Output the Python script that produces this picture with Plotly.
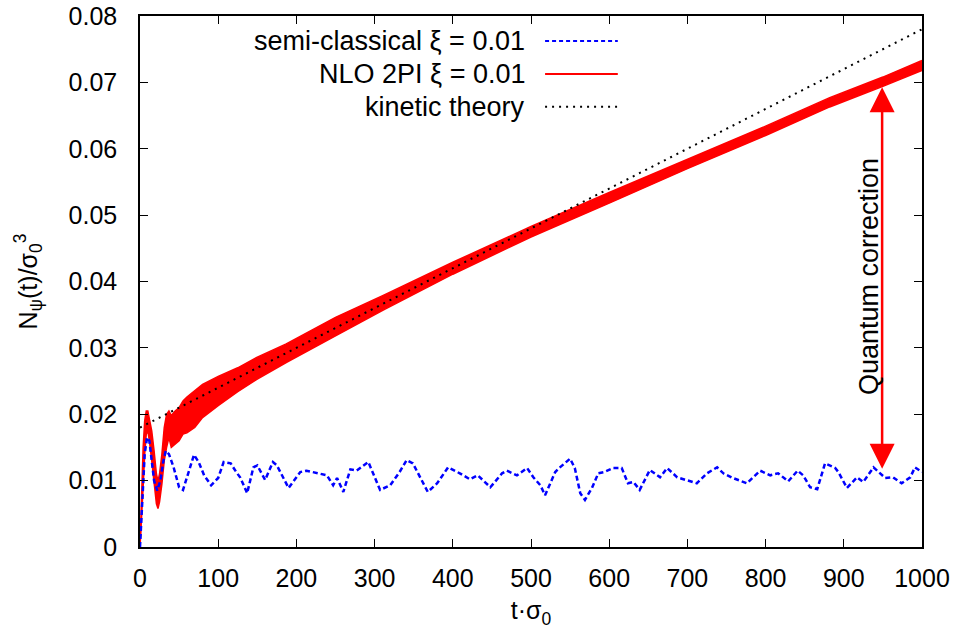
import plotly.graph_objects as go

# ---------------- data ----------------
# semi-classical xi = 0.01 (blue dashed)
t_blue = [0, 3, 6, 9, 12, 15, 18, 22, 26, 30, 33, 37, 43, 50, 55, 63, 69, 75, 82, 91,
          100, 107, 116, 123, 128, 133, 137, 145, 150, 160, 170, 175, 190, 205, 213,
          239, 247, 252, 260, 269, 277, 292, 307, 320, 332, 341, 349, 360, 368, 380,
          394, 409, 422, 432, 448, 463, 469, 482, 495, 503, 512, 518, 531, 537, 550,
          556, 563, 569, 578, 586, 594, 605, 616, 624, 631, 639, 652, 665, 674, 687,
          699, 712, 725, 738, 746, 758, 776, 793, 806, 816, 829, 841, 848, 857, 866,
          870, 876, 889, 893, 904, 917, 925, 938, 953, 963, 974, 985, 991, 1000]
n_blue = [0, 0.007, 0.014, 0.0165, 0.016, 0.013, 0.010, 0.0085, 0.010, 0.013, 0.0145,
          0.014, 0.012, 0.009, 0.0086, 0.0116, 0.0139, 0.0128, 0.0108, 0.0093,
          0.0104, 0.0128, 0.0126, 0.0113, 0.0105, 0.0092, 0.0081, 0.012, 0.0123,
          0.0101, 0.0128, 0.0123, 0.0089, 0.0113, 0.0115, 0.0108, 0.0093, 0.0104,
          0.0083, 0.0117, 0.0115, 0.0128, 0.0086, 0.0093, 0.0113, 0.0131, 0.0126,
          0.0101, 0.0083, 0.0096, 0.012, 0.0111, 0.0102, 0.0108, 0.009, 0.0111,
          0.0115, 0.0108, 0.0119, 0.0105, 0.0093, 0.0078, 0.0113, 0.012, 0.0133,
          0.0119, 0.0081, 0.0071, 0.0089, 0.0111, 0.0113, 0.0119, 0.0119, 0.0096,
          0.0098, 0.0086, 0.0116, 0.0105, 0.0119, 0.0105, 0.0101, 0.0096, 0.0111,
          0.012, 0.0111, 0.0104, 0.0096, 0.0115, 0.0108, 0.0111, 0.0099, 0.0115,
          0.0108, 0.009, 0.0087, 0.0104, 0.0126, 0.0119, 0.0113, 0.0089, 0.0105,
          0.0098, 0.012, 0.0104, 0.0105, 0.0096, 0.0105, 0.012, 0.0113]

# NLO 2PI xi = 0.01 (red, rapidly oscillating band: upper / lower envelope)
t_red = [0, 2, 4, 6, 8, 10, 12, 15, 18, 21, 23, 25, 28, 31, 34, 37, 40, 45, 50, 55,
         60, 70, 80, 100, 125, 150, 187, 250, 311, 400, 500, 600, 700, 800, 882,
         950, 1000]
n_red_hi = [0, 0.009, 0.015, 0.019, 0.0205, 0.0205, 0.0195, 0.0175, 0.0145, 0.011,
            0.010, 0.011, 0.014, 0.018, 0.020, 0.0205, 0.0198, 0.0205, 0.021, 0.022,
            0.0226, 0.0235, 0.0245, 0.0257, 0.0270, 0.0286, 0.0306, 0.0346, 0.0379,
            0.0429, 0.0483, 0.0534, 0.0584, 0.0634, 0.0677, 0.0708, 0.0733]
n_red_lo = [0, 0.004, 0.009, 0.014, 0.017, 0.0175, 0.016, 0.013, 0.010, 0.0065,
            0.0058, 0.0068, 0.0095, 0.013, 0.015, 0.0165, 0.015, 0.0155, 0.016, 0.017,
            0.0172, 0.018, 0.0195, 0.0213, 0.0234, 0.0253, 0.0278, 0.0318, 0.0357,
            0.0411, 0.0467, 0.0518, 0.0570, 0.0620, 0.0663, 0.0694, 0.0718]

# kinetic theory (black dotted)
t_kin = [0, 1000]
n_kin = [0.018, 0.078]

x_ticks = [0, 100, 200, 300, 400, 500, 600, 700, 800, 900, 1000]
y_ticks = [0, 0.01, 0.02, 0.03, 0.04, 0.05, 0.06, 0.07, 0.08]
y_tick_text = ["0", "0.01", "0.02", "0.03", "0.04", "0.05", "0.06", "0.07", "0.08"]

legend_labels = ["semi-classical \u03be = 0.01", "NLO 2PI \u03be = 0.01", "kinetic theory"]

# quantum correction arrow
arrow_t = 949
arrow_lo = 0.0118
arrow_hi = 0.0695

FONT = "Liberation Sans, Arial, sans-serif"

fig = go.Figure()

fig.add_trace(go.Scatter(x=t_red, y=n_red_lo, mode="lines",
                         line=dict(color="#ff0000", width=1.5), hoverinfo="skip",
                         showlegend=False))
fig.add_trace(go.Scatter(x=t_red, y=n_red_hi, mode="lines", fill="tonexty",
                         fillcolor="#ff0000",
                         line=dict(color="#ff0000", width=1.5), showlegend=False))
fig.add_trace(go.Scatter(x=t_blue, y=n_blue, mode="lines",
                         line=dict(color="#0000ff", width=2.5, dash="5px,3px"),
                         showlegend=False))
fig.add_trace(go.Scatter(x=t_kin, y=n_kin, mode="lines",
                         line=dict(color="#000000", width=2, dash="2px,5px"),
                         showlegend=False))

# gnuplot-style key: text right-aligned, sample on the right
key_rows = [0.953, 0.891, 0.829]
key_styles = [dict(color="#0000ff", width=2, dash="4px,3px"),
              dict(color="#ff0000", width=2),
              dict(color="#000000", width=2, dash="2px,5px")]
for lab, yy, st in zip(legend_labels, key_rows, key_styles):
    fig.add_annotation(x=0.495, y=yy, xref="paper", yref="paper", text=lab,
                       showarrow=False, xanchor="right", yanchor="middle",
                       font=dict(family=FONT, size=27, color="black"))
    fig.add_shape(type="line", xref="paper", yref="paper", x0=0.518, x1=0.611,
                  y0=yy, y1=yy, line=st)

fig.add_annotation(x=arrow_t, y=arrow_lo, ax=arrow_t, ay=arrow_hi, xref="x", yref="y",
                   axref="x", ayref="y", showarrow=True, arrowhead=2, startarrowhead=2,
                   arrowside="end+start", arrowsize=2.0, startarrowsize=2.0,
                   arrowwidth=2.5, arrowcolor="#ff0000", text="", standoff=0,
                   startstandoff=0)
fig.add_annotation(x=932, y=0.0408, xref="x", yref="y", text="Quantum correction",
                   showarrow=False, textangle=-90,
                   font=dict(family=FONT, size=27, color="black"))

axis_common = dict(showline=True, linecolor="black", linewidth=1.5, mirror="ticks",
                   ticks="inside", ticklen=8, tickwidth=1.2, tickcolor="black",
                   showgrid=False, zeroline=False, automargin=False,
                   tickfont=dict(family=FONT, size=25, color="black"))

fig.update_xaxes(range=[0, 1000], tickvals=x_ticks, ticklabelstandoff=8,
                 title=dict(text="t\u00b7\u03c3<sub>0</sub>", standoff=11,
                            font=dict(family=FONT, size=25, color="black")),
                 **axis_common)
fig.update_yaxes(range=[0, 0.08], tickvals=y_ticks, ticktext=y_tick_text,
                 ticklabelstandoff=16,
                 title=dict(text="N<sub>\u03c8</sub>(t)/\u03c3<sub>0</sub><sup>3</sup>",
                            standoff=24,
                            font=dict(family=FONT, size=25, color="black")),
                 **axis_common)

fig.update_layout(width=958, height=635, margin=dict(l=140, r=36, t=16, b=88),
                  plot_bgcolor="white", paper_bgcolor="white",
                  font=dict(family=FONT, size=25, color="black"))

fig.write_html("out.html")
